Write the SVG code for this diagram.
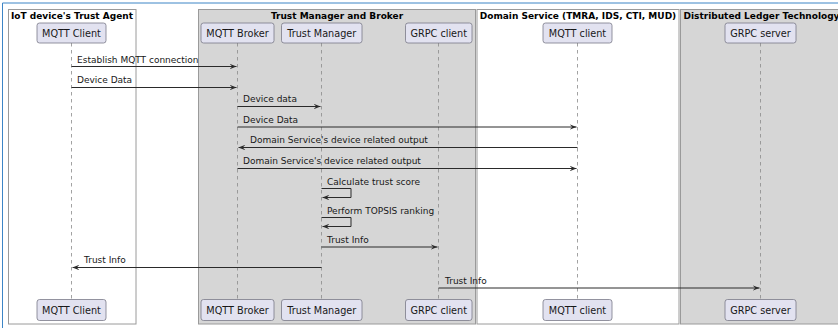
<svg xmlns="http://www.w3.org/2000/svg" width="838" height="328" viewBox="0 0 838 328">
  <defs>
    <style>
      .grp { stroke: #9a9a9a; stroke-width: 1; }
      .grp-w { fill: #ffffff; }
      .grp-g { fill: #d6d6d6; }
      .gtitle { font-family: "DejaVu Sans", sans-serif; font-size: 9px; font-weight: bold; fill: #000000; text-anchor: middle; }
      .pbox { fill: #e2e2f0; stroke: #7a7a88; stroke-width: 0.8; }
      .ptext { font-family: "DejaVu Sans", sans-serif; font-size: 9.7px; fill: #181818; text-anchor: middle; }
      .life { stroke: #8a8a8a; stroke-width: 0.8; stroke-dasharray: 3.5 3.5; fill: none; }
      .msg { stroke: #2a2a2a; stroke-width: 1; fill: none; }
      .mtext { font-family: "DejaVu Sans", sans-serif; font-size: 9px; fill: #181818; }
    </style>
    <marker id="arrow" viewBox="0 0 7 5.6" refX="7" refY="2.8" markerWidth="7" markerHeight="5.6" markerUnits="userSpaceOnUse" orient="auto">
      <path d="M0,0 L7,2.8 L0,5.6 L2.8,2.8 Z" fill="#2a2a2a"/>
    </marker>
  </defs>

  <rect x="0" y="0" width="838" height="328" fill="#ffffff"/>
  <!-- outer frame edges -->
  <line x1="2.5" y1="3" x2="838" y2="3" stroke="#3d85c6" stroke-width="1"/>
  <line x1="2.5" y1="3" x2="2.5" y2="328" stroke="#3d85c6" stroke-width="1"/>

  <!-- participant groups -->
  <g id="box-trust-agent">
    <rect class="grp grp-w" x="8.5" y="9.5" width="127.5" height="314.5"/>
    <text class="gtitle" x="72" y="19">IoT device's Trust Agent</text>
  </g>
  <g id="box-trust-manager">
    <rect class="grp grp-g" x="198.5" y="9.5" width="277" height="314.5"/>
    <text class="gtitle" x="337" y="19">Trust Manager and Broker</text>
  </g>
  <g id="box-domain-service">
    <rect class="grp grp-w" x="477" y="9.5" width="202" height="314.5"/>
    <text class="gtitle" x="578" y="19">Domain Service (TMRA, IDS, CTI, MUD)</text>
  </g>
  <g id="box-dlt">
    <rect class="grp grp-g" x="680.5" y="9.5" width="165" height="314.5"/>
    <text class="gtitle" x="761.5" y="19">Distributed Ledger Technology</text>
  </g>

  <!-- lifelines -->
  <g id="lifelines">
    <line class="life" x1="71.5" y1="43" x2="71.5" y2="299"/>
    <line class="life" x1="237.5" y1="43" x2="237.5" y2="299"/>
    <line class="life" x1="321.5" y1="43" x2="321.5" y2="299"/>
    <line class="life" x1="438.5" y1="43" x2="438.5" y2="299"/>
    <line class="life" x1="577.5" y1="43" x2="577.5" y2="299"/>
    <line class="life" x1="760.5" y1="43" x2="760.5" y2="299"/>
  </g>

  <!-- participants -->
  <g id="mqtt-client-agent">
    <rect class="pbox" x="37" y="23" width="69" height="20" rx="2.5"/>
    <text class="ptext" x="71.5" y="37">MQTT Client</text>
    <rect class="pbox" x="37" y="299.5" width="69" height="21" rx="2.5"/>
    <text class="ptext" x="71.5" y="314">MQTT Client</text>
  </g>
  <g id="mqtt-broker">
    <rect class="pbox" x="201" y="23" width="73" height="20" rx="2.5"/>
    <text class="ptext" x="237.5" y="37">MQTT Broker</text>
    <rect class="pbox" x="201" y="299.5" width="73" height="21" rx="2.5"/>
    <text class="ptext" x="237.5" y="314">MQTT Broker</text>
  </g>
  <g id="trust-manager">
    <rect class="pbox" x="281.5" y="23" width="80.5" height="20" rx="2.5"/>
    <text class="ptext" x="321.75" y="37">Trust Manager</text>
    <rect class="pbox" x="281.5" y="299.5" width="80.5" height="21" rx="2.5"/>
    <text class="ptext" x="321.75" y="314">Trust Manager</text>
  </g>
  <g id="grpc-client">
    <rect class="pbox" x="405.5" y="23" width="66.5" height="20" rx="2.5"/>
    <text class="ptext" x="438.75" y="37">GRPC client</text>
    <rect class="pbox" x="405.5" y="299.5" width="66.5" height="21" rx="2.5"/>
    <text class="ptext" x="438.75" y="314">GRPC client</text>
  </g>
  <g id="mqtt-client-domain">
    <rect class="pbox" x="543" y="23" width="69" height="20" rx="2.5"/>
    <text class="ptext" x="577.5" y="37">MQTT client</text>
    <rect class="pbox" x="543" y="299.5" width="69" height="21" rx="2.5"/>
    <text class="ptext" x="577.5" y="314">MQTT client</text>
  </g>
  <g id="grpc-server">
    <rect class="pbox" x="725" y="23" width="71" height="20" rx="2.5"/>
    <text class="ptext" x="760.5" y="37">GRPC server</text>
    <rect class="pbox" x="725" y="299.5" width="71" height="21" rx="2.5"/>
    <text class="ptext" x="760.5" y="314">GRPC server</text>
  </g>

  <!-- messages -->
  <g id="connectors">
    <line class="msg" x1="71.5" y1="66.5" x2="236.5" y2="66.5" marker-end="url(#arrow)"/>
    <text class="mtext" x="77" y="62.5">Establish MQTT connection</text>

    <line class="msg" x1="71.5" y1="87.5" x2="236.5" y2="87.5" marker-end="url(#arrow)"/>
    <text class="mtext" x="77" y="83">Device Data</text>

    <line class="msg" x1="237.5" y1="106.5" x2="320.5" y2="106.5" marker-end="url(#arrow)"/>
    <text class="mtext" x="243" y="102">Device data</text>

    <line class="msg" x1="237.5" y1="127" x2="576.5" y2="127" marker-end="url(#arrow)"/>
    <text class="mtext" x="243" y="122.5">Device Data</text>

    <line class="msg" x1="577.5" y1="147.5" x2="238.5" y2="147.5" marker-end="url(#arrow)"/>
    <text class="mtext" x="250" y="143">Domain Service's device related output</text>

    <line class="msg" x1="237.5" y1="168.5" x2="576.5" y2="168.5" marker-end="url(#arrow)"/>
    <text class="mtext" x="243" y="164">Domain Service's device related output</text>

    <polyline class="msg" points="321.5,188.5 351,188.5 351,197.5 322.5,197.5" marker-end="url(#arrow)"/>
    <text class="mtext" x="327" y="184.5">Calculate trust score</text>

    <polyline class="msg" points="321.5,217.5 351,217.5 351,226.5 322.5,226.5" marker-end="url(#arrow)"/>
    <text class="mtext" x="327" y="213.5">Perform TOPSIS ranking</text>

    <line class="msg" x1="321.5" y1="247" x2="437.5" y2="247" marker-end="url(#arrow)"/>
    <text class="mtext" x="327" y="242.5">Trust Info</text>

    <line class="msg" x1="321.5" y1="267.5" x2="72.5" y2="267.5" marker-end="url(#arrow)"/>
    <text class="mtext" x="84" y="263">Trust Info</text>

    <line class="msg" x1="438.5" y1="288" x2="759.5" y2="288" marker-end="url(#arrow)"/>
    <text class="mtext" x="445" y="283.5">Trust Info</text>
  </g>
</svg>
